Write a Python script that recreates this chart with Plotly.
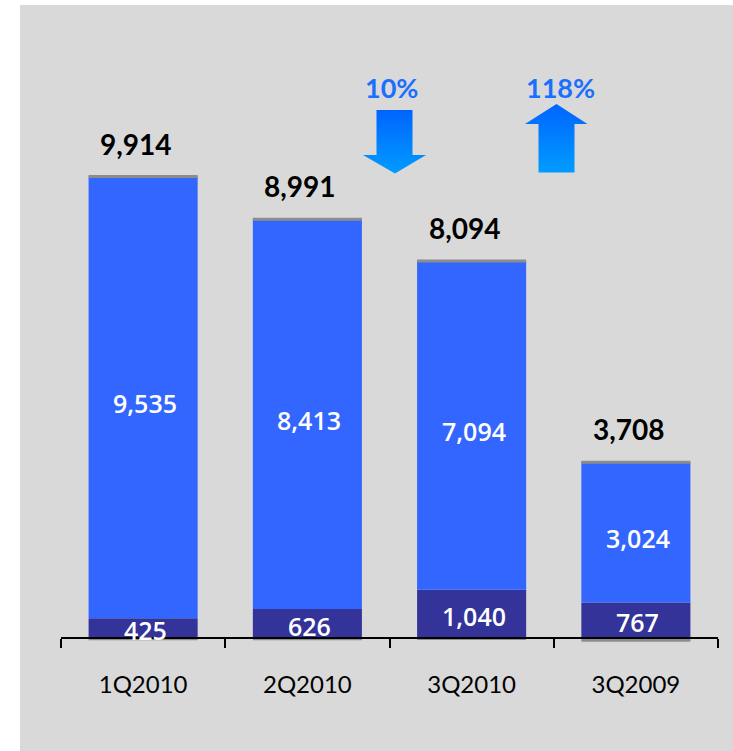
import plotly.graph_objects as go

# Quarterly figures
categories = ["1Q2010", "2Q2010", "3Q2010", "3Q2009"]
totals = [9914, 8991, 8094, 3708]
base_values = [425, 626, 1040, 767]
main_values = [9535, 8413, 7094, 3024]
change_labels = ["10%", "118%"]

W, H = 733, 751
FONT = "Lato"
INNER_FONT = "Open Sans"
DARK = "#333399"
BLUE = "#3366ff"
GREY = "#8c8c8c"
ARROW_TEXT = "#1a6fff"

# residual between the reported total and the two stacked parts
adjust = [t - b - m for t, b, m in zip(totals, base_values, main_values)]
stack_top = [b + m for b, m in zip(base_values, main_values)]

# pixel geometry of the plotting frame
zero_px = 638.0
top_px = 176.5
scale = (zero_px - top_px) / max(stack_top)
y_range = [-(H - zero_px) / scale, zero_px / scale]
bar_width = 0.664

fig = go.Figure()
fig.add_bar(x=categories, y=base_values, marker=dict(color=DARK, line=dict(width=0)),
            width=bar_width, hoverinfo="skip")
fig.add_bar(x=categories, y=main_values, marker=dict(color=BLUE, line=dict(width=0)),
            width=bar_width, hoverinfo="skip")
fig.add_bar(x=categories, y=adjust, marker=dict(color=GREY, line=dict(width=0)),
            width=bar_width, hoverinfo="skip")

shapes = [
    dict(type="rect", xref="paper", yref="paper", x0=20 / W, x1=1, y0=0, y1=1 - 5 / H,
         fillcolor="#d9d9d9", line=dict(width=0), layer="below"),
]
# thin grey cap on top of each stack
for i, top in enumerate(stack_top):
    shapes.append(dict(type="line", xref="x", yref="y", x0=i - bar_width / 2, x1=i + bar_width / 2,
                       y0=top, y1=top, line=dict(color=GREY, width=3), layer="above"))

annotations = []
for i, cat in enumerate(categories):
    annotations.append(dict(x=cat, y=stack_top[i], xref="x", yref="y", text=f"{totals[i]:,}",
                            showarrow=False, yanchor="middle", yshift=33, xshift=-7,
                            font=dict(family=FONT, size=28, color="black", weight="bold")))
    annotations.append(dict(x=cat, y=base_values[i] + main_values[i] / 2, xref="x", yref="y",
                            text=f"{main_values[i]:,}", showarrow=False, yanchor="middle",
                            yshift=-6, xshift=2,
                            font=dict(family=INNER_FONT, size=25, color="white", weight=600)))
    annotations.append(dict(x=cat, y=base_values[i] / 2, xref="x", yref="y",
                            text=f"{base_values[i]:,}", showarrow=False, yanchor="middle",
                            yshift=-2, xshift=2,
                            font=dict(family=INNER_FONT, size=25, color="white", weight=600)))

# change arrows drawn in a pixel-scaled overlay
down_arrow = ([376.5, 412.5, 412.5, 426, 395, 363, 376.5, 376.5],
              [110, 110, 155, 155, 173.5, 155, 155, 110])
up_arrow = ([556.5, 587.5, 574.5, 574.5, 538.5, 538.5, 525, 556.5],
            [104, 124, 124, 172.5, 172.5, 124, 124, 104])
for (ax, ay), label, cx in ((down_arrow, change_labels[0], 391), (up_arrow, change_labels[1], 560)):
    fig.add_scatter(x=ax, y=ay, xaxis="x2", yaxis="y2", mode="lines", fill="toself",
                    line=dict(width=0), hoverinfo="skip",
                    fillgradient=dict(type="vertical", start=min(ay), stop=max(ay),
                                      colorscale=[[0, "#0064ff"], [1, "#009cff"]]))
    annotations.append(dict(x=cx, y=87, xref="x2", yref="y2", text=label, showarrow=False,
                            font=dict(family=FONT, size=27, color=ARROW_TEXT, weight="bold")))

fig.update_layout(
    width=W, height=H,
    margin=dict(l=0, r=0, t=0, b=0),
    paper_bgcolor="white", plot_bgcolor="rgba(0,0,0,0)",
    barmode="relative", showlegend=False,
    shapes=shapes, annotations=annotations,
    xaxis=dict(domain=[61 / W, 718 / W], anchor="free", position=1 - zero_px / H,
               type="category", range=[-0.5, 3.5], showline=True, linecolor="black", linewidth=2,
               ticks="outside", tickson="boundaries", ticklen=9, tickwidth=2, tickcolor="black",
               tickfont=dict(family=FONT, size=24, color="black"), ticklabelstandoff=25,
               showgrid=False, zeroline=False, fixedrange=True),
    yaxis=dict(domain=[0, 1], range=y_range, visible=False, showgrid=False, zeroline=False),
    xaxis2=dict(domain=[0, 1], range=[0, W], visible=False, anchor="y2"),
    yaxis2=dict(domain=[0, 1], range=[H, 0], visible=False, anchor="x2"),
)

fig.write_html("out.html")
